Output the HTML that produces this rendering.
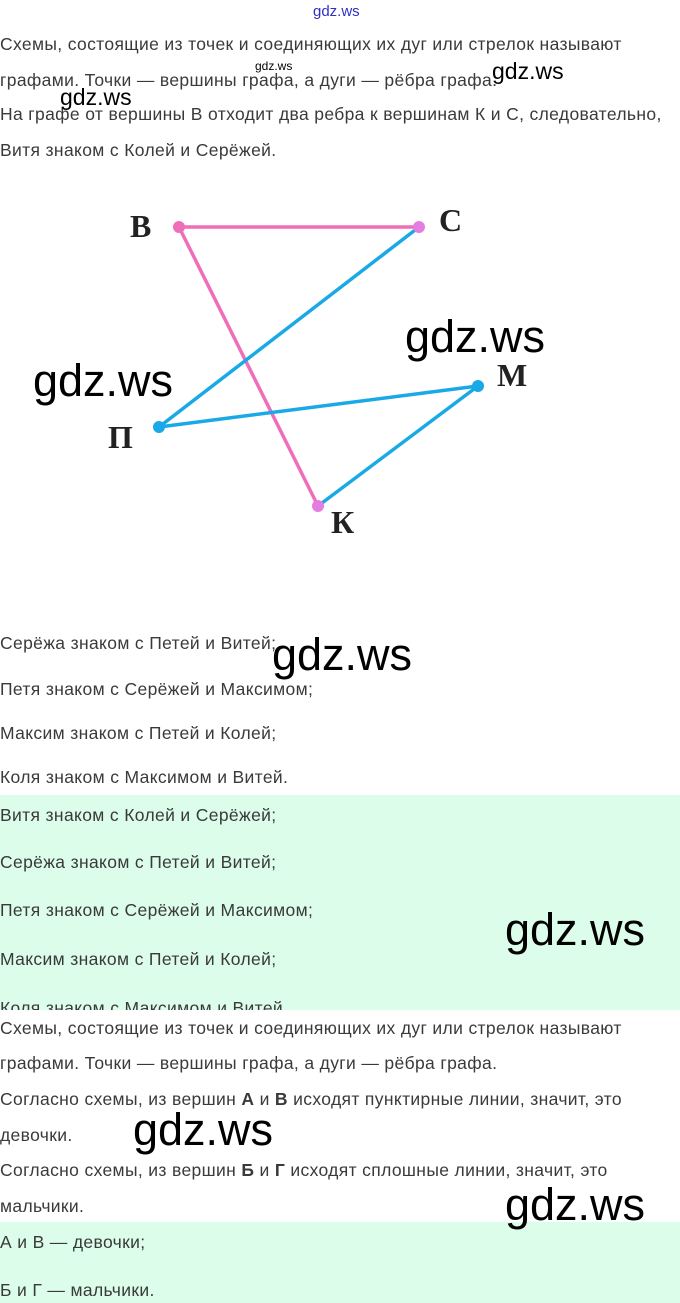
<!DOCTYPE html><html><head><meta charset="utf-8"><style>
body{margin:0;width:680px;height:1303px;position:relative;background:#fff;overflow:hidden;font-family:"Liberation Sans",sans-serif}
.t{position:absolute;left:0;font-size:17.5px;letter-spacing:0.35px;color:#3a3a3a;white-space:nowrap;line-height:20px}
.w{position:absolute;color:#000;white-space:nowrap;line-height:1;font-family:"Liberation Sans",sans-serif}
.g{position:absolute;left:0;width:680px;background:#dcfde9}
</style></head><body>
<div class="g" style="top:795px;height:215px"></div>
<div class="g" style="top:1222px;height:81px"></div>
<div class="w" style="left:313px;top:4px;font-size:15px;color:#3030c0">gdz.ws</div>
<div class="t" style="top:34px">Схемы, состоящие из точек и соединяющих их дуг или стрелок называют</div>
<div class="t" style="top:70px">графами. Точки — вершины графа, а дуги — рёбра графа.</div>
<div class="t" style="top:104px">На графе от вершины В отходит два ребра к вершинам К и С, следовательно,</div>
<div class="t" style="top:140px">Витя знаком с Колей и Серёжей.</div>
<div class="w" style="left:255px;top:60px;font-size:12px">gdz.ws</div>
<div class="w" style="left:492px;top:60px;font-size:23px">gdz.ws</div>
<div class="w" style="left:60px;top:86px;font-size:23px">gdz.ws</div>
<svg style="position:absolute;left:0;top:0" width="680" height="600">
<g stroke-width="3.5" stroke-linecap="round">
<line x1="179" y1="227" x2="419" y2="227" stroke="#f06dba"/>
<line x1="179" y1="227" x2="318" y2="506" stroke="#f06dba"/>
<line x1="419" y1="227" x2="159" y2="427" stroke="#19a9e6"/>
<line x1="159" y1="427" x2="478" y2="386" stroke="#19a9e6"/>
<line x1="478" y1="386" x2="318" y2="506" stroke="#19a9e6"/>
</g>
<circle cx="179" cy="227" r="6" fill="#f06dba"/><circle cx="419" cy="227" r="6" fill="#e37ee0"/>
<circle cx="318" cy="506" r="6" fill="#e37ee0"/><circle cx="159" cy="427" r="6" fill="#19a9e6"/><circle cx="478" cy="386" r="6" fill="#19a9e6"/>
<g font-family="Liberation Serif,serif" font-weight="bold" font-size="32" fill="#222">
<text x="130" y="237">В</text><text x="439" y="231">С</text><text x="497" y="386">М</text><text x="108" y="448">П</text><text x="331" y="533">К</text>
</g></svg>
<div class="w" style="left:405px;top:314px;font-size:45px">gdz.ws</div>
<div class="w" style="left:33px;top:358px;font-size:45px">gdz.ws</div>
<div class="t" style="top:633px">Серёжа знаком с Петей и Витей;</div>
<div class="w" style="left:272px;top:632px;font-size:45px">gdz.ws</div>
<div class="t" style="top:679px">Петя знаком с Серёжей и Максимом;</div>
<div class="t" style="top:723px">Максим знаком с Петей и Колей;</div>
<div class="t" style="top:767px">Коля знаком с Максимом и Витей.</div>
<div class="t" style="top:805px">Витя знаком с Колей и Серёжей;</div>
<div class="t" style="top:852px">Серёжа знаком с Петей и Витей;</div>
<div class="t" style="top:900px">Петя знаком с Серёжей и Максимом;</div>
<div class="t" style="top:949px">Максим знаком с Петей и Колей;</div>
<div style="position:absolute;top:996px;left:0;height:14px;overflow:hidden;width:680px"><div class="t" style="top:2px">Коля знаком с Максимом и Витей.</div></div>
<div class="w" style="left:505px;top:907px;font-size:45px">gdz.ws</div>
<div class="t" style="top:1018px">Схемы, состоящие из точек и соединяющих их дуг или стрелок называют</div>
<div class="t" style="top:1053px">графами. Точки — вершины графа, а дуги — рёбра графа.</div>
<div class="t" style="top:1089px">Согласно схемы, из вершин <b>А</b> и <b>В</b> исходят пунктирные линии, значит, это</div>
<div class="t" style="top:1125px">девочки.</div>
<div class="w" style="left:133px;top:1107px;font-size:45px">gdz.ws</div>
<div class="t" style="top:1160px">Согласно схемы, из вершин <b>Б</b> и <b>Г</b> исходят сплошные линии, значит, это</div>
<div class="t" style="top:1196px">мальчики.</div>
<div class="w" style="left:505px;top:1182px;font-size:45px">gdz.ws</div>
<div class="t" style="top:1232px">А и В — девочки;</div>
<div class="t" style="top:1280px">Б и Г — мальчики.</div>
</body></html>
